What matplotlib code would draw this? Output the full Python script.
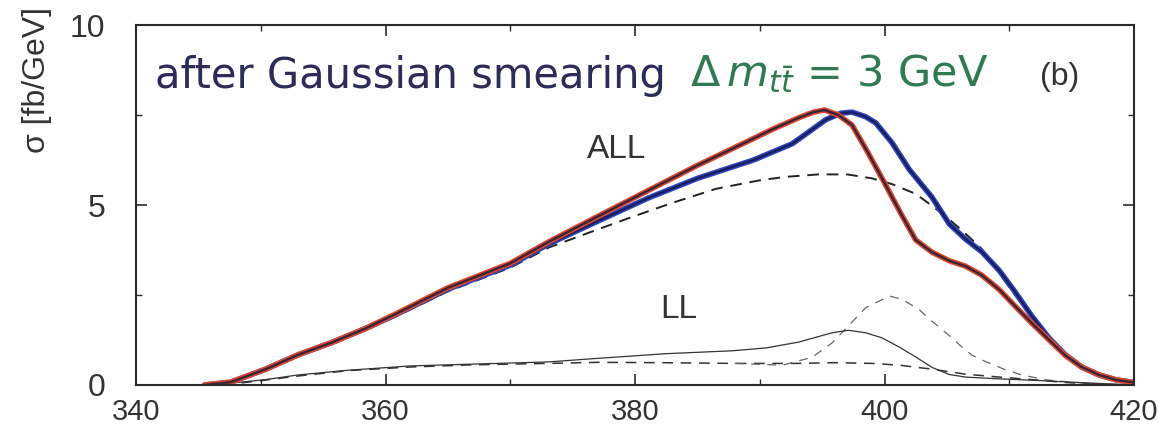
import matplotlib
matplotlib.use("Agg")
import matplotlib.pyplot as plt
from matplotlib.ticker import MultipleLocator

plt.rcParams['font.family'] = ['Liberation Sans', 'DejaVu Sans']
plt.rcParams['mathtext.fontset'] = 'dejavusans'

# ---------------- data ----------------
red_x = [345.5, 347.6, 350.4, 353.0, 355.7, 358.4, 360.8, 365.0, 370.0, 373.1, 377.0, 381.1, 385.0,
         389.1, 391.0, 393.1, 394.3, 395.2, 396.3, 397.4, 398.6, 399.9, 401.3, 402.5, 403.8, 405.2,
         406.5, 407.8, 409.2, 410.5, 411.8, 413.2, 414.5, 415.8, 417.2, 418.6, 420.0]
red_y = [0.0, 0.08, 0.44, 0.84, 1.18, 1.57, 1.97, 2.70, 3.38, 3.98, 4.68, 5.41, 6.10,
         6.78, 7.10, 7.42, 7.58, 7.64, 7.50, 7.22, 6.50, 5.68, 4.77, 4.03, 3.69, 3.45,
         3.30, 3.05, 2.65, 2.18, 1.72, 1.25, 0.82, 0.50, 0.28, 0.14, 0.07]

blue_x = [345.5, 347.6, 350.4, 353.0, 355.7, 358.4, 360.8, 365.0, 370.0, 373.1, 377.0, 381.1, 385.0,
          389.5, 392.6, 395.3, 396.5, 397.4, 398.5, 399.3, 400.6, 402.0, 403.8, 405.2, 406.5, 407.8,
          409.2, 410.5, 411.8, 413.2, 414.5, 415.8, 417.2, 418.6, 420.0]
blue_y = [0.0, 0.08, 0.44, 0.84, 1.18, 1.57, 1.95, 2.66, 3.33, 3.92, 4.55, 5.20, 5.74,
          6.25, 6.70, 7.37, 7.55, 7.58, 7.45, 7.28, 6.73, 5.98, 5.22, 4.47, 4.05, 3.70,
          3.18, 2.57, 1.92, 1.30, 0.84, 0.50, 0.28, 0.14, 0.07]

dash_x = [345.5, 347.6, 350.4, 353.0, 355.7, 358.4, 360.8, 365.0, 370.0, 373.1, 377.0, 379.7, 383.0,
          386.5, 389.9, 392.0, 394.7, 397.0, 399.0, 400.6, 402.5, 403.8, 405.2, 406.5, 407.8, 409.2,
          410.5, 411.8, 413.2, 414.5, 415.8, 417.2, 418.6, 420.0]
dash_y = [0.0, 0.08, 0.42, 0.80, 1.14, 1.52, 1.90, 2.60, 3.26, 3.82, 4.32, 4.66, 5.06,
          5.45, 5.68, 5.78, 5.85, 5.85, 5.74, 5.58, 5.31, 4.98, 4.60, 4.20, 3.78, 3.10,
          2.48, 1.90, 1.30, 0.84, 0.50, 0.28, 0.14, 0.07]

ll_x = [346.0, 347.6, 350.4, 353.0, 357.0, 362.0, 367.0, 373.0, 377.0, 382.5, 387.8, 390.5, 393.1,
        395.8, 397.1, 398.5, 399.8, 401.2, 402.5, 403.8, 405.2, 406.5, 409.2, 412.0, 415.0, 418.0, 420.0]
ll_y = [0.0, 0.05, 0.15, 0.28, 0.41, 0.53, 0.58, 0.64, 0.74, 0.87, 0.95, 1.03, 1.19,
        1.45, 1.52, 1.45, 1.31, 1.05, 0.78, 0.49, 0.29, 0.22, 0.17, 0.13, 0.08, 0.03, 0.0]

llflat_x = [347.0, 350.0, 353.0, 357.0, 362.0, 367.0, 373.0, 377.0, 382.0, 388.0, 393.0, 396.0,
            399.0, 401.2, 403.8, 406.5, 409.2, 411.8, 414.5, 417.0, 420.0]
llflat_y = [0.0, 0.12, 0.25, 0.40, 0.50, 0.56, 0.60, 0.63, 0.62, 0.60, 0.60, 0.62,
            0.60, 0.55, 0.44, 0.30, 0.22, 0.15, 0.07, 0.02, 0.0]

llpeak_x = [388.0, 391.8, 394.2, 395.8, 397.9, 398.5, 400.4, 401.4, 402.8, 403.6, 405.2, 406.0,
            407.0, 408.1, 408.9, 409.7, 411.0, 413.0, 416.0, 420.0]
llpeak_y = [0.60, 0.55, 0.77, 1.17, 1.93, 2.15, 2.47, 2.38, 2.09, 1.83, 1.37, 1.12,
            0.83, 0.65, 0.54, 0.42, 0.28, 0.14, 0.05, 0.0]

x_ticks = [340, 360, 380, 400, 420]
y_ticks = [0, 5, 10]

# ---------------- figure ----------------
W, H = 1159, 426
fig = plt.figure(figsize=(W / 100, H / 100), dpi=100)
ax = fig.add_axes([136 / W, (H - 385) / H, (1134 - 136) / W, 360 / H])

ax.set_xlim(340, 420)
ax.set_ylim(0, 10)

# thin LL curves
ax.plot(llflat_x, llflat_y, color='#333333', lw=1.1, ls=(0, (7, 5)))
ax.plot(llpeak_x, llpeak_y, color='#666666', lw=0.9, ls=(0, (7, 6)))
ax.plot(ll_x, ll_y, color='#333333', lw=0.9)

# ALL curves
ax.plot(dash_x, dash_y, color='#222222', lw=1.4, ls=(0, (6, 4)))
ax.plot(blue_x, blue_y, color='#2b45c0', lw=4.0, solid_capstyle='round')
ax.plot(blue_x, blue_y, color='#1c1f5c', lw=1.8)
ax.plot(red_x, red_y, color='#e5472c', lw=4.0, solid_capstyle='round')
ax.plot(red_x, red_y, color='#3a2638', lw=1.8)

# axes styling
for sp in ax.spines.values():
    sp.set_linewidth(1.5)
    sp.set_color('#2a2a2a')
ax.set_xticks(x_ticks)
ax.set_yticks(y_ticks)
ax.xaxis.set_minor_locator(MultipleLocator(10))
ax.yaxis.set_minor_locator(MultipleLocator(2.5))
ax.tick_params(which='both', direction='in', top=True, right=True, colors='#2a2a2a')
ax.tick_params(which='major', length=8, width=1.2)
ax.tick_params(which='minor', length=4, width=1.0)
ax.tick_params(axis='x', labelsize=21, pad=9, labelcolor='#333333')
ax.tick_params(axis='y', labelsize=23, pad=22, labelcolor='#333333')

# annotations
ax.text(378.5, 6.55, 'ALL', fontsize=24, color='#333333', ha='center', va='center')
ax.text(383.5, 2.11, 'LL', fontsize=24, color='#333333', ha='center', va='center')
fig.text(1060 / W, 1 - 77 / H, '(b)', fontsize=23, color='#333333', ha='center', va='center')

fig.text(155 / W, 1 - 88 / H, 'after Gaussian smearing', fontsize=30, color='#2c2c58',
         family='DejaVu Sans', ha='left', va='baseline')
fig.text(690 / W, 1 - 86 / H, r'$\Delta\,m_{t\bar{t}}$ = 3 GeV', fontsize=31, color='#2f7a52',
         family='DejaVu Sans', ha='left', va='baseline')

fig.text(37 / W, 1 - 153 / H, 'σ [fb/GeV]', fontsize=23, color='#333333', rotation=90,
         ha='center', va='bottom')

fig.savefig('out.png', dpi=100)
